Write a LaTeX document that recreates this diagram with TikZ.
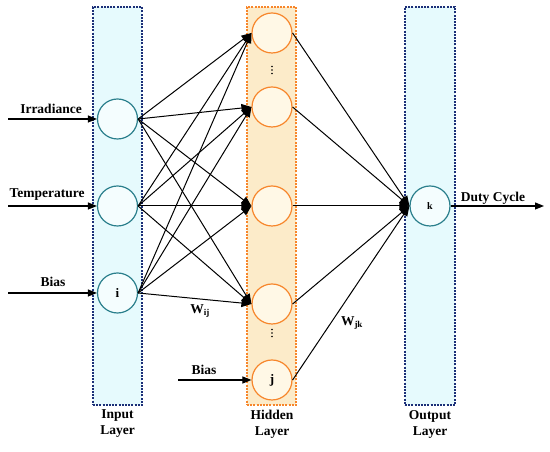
\documentclass[tikz,border=0pt]{standalone}
\usepackage{fontspec}
\setmainfont{Liberation Serif}
\usetikzlibrary{arrows.meta}
\definecolor{navy}{HTML}{1B2F78}
\definecolor{cyanfill}{HTML}{E6FAFD}
\definecolor{teal}{HTML}{2A7F8C}
\definecolor{tealfill}{HTML}{F4FDFE}
\definecolor{orng}{HTML}{F7862B}
\definecolor{orfill}{HTML}{FCEBC9}
\definecolor{ocfill}{HTML}{FFF8E6}
\tikzset{
  lbl/.style={font=\bfseries\fontsize{13.5}{17}\selectfont, inner sep=0pt},
  inbox/.style={draw=navy, fill=cyanfill, line width=1.4pt, dash pattern=on 2pt off 1.2pt},
  hidbox/.style={draw=orng, fill=orfill, line width=1.4pt, dash pattern=on 2pt off 1.2pt},
  incirc/.style={circle, draw=teal, fill=tealfill, line width=1.2pt, minimum size=40pt, inner sep=0pt, font=\bfseries\fontsize{13}{15}\selectfont},
  hidcirc/.style={circle, draw=orng, fill=ocfill, line width=1.2pt, minimum size=40pt, inner sep=0pt, font=\bfseries\fontsize{13}{15}\selectfont},
  conn/.style={line width=1pt, -{Triangle[length=10pt,width=8pt]}},
  inarr/.style={line width=1.1pt, -{Triangle[length=9pt,width=7pt]}},
  dot/.style={fill=black}
}
\begin{document}
\begin{tikzpicture}[x=1pt,y=1pt]
\useasboundingbox (0,0) rectangle (550,452);
% layer boxes
\node[inbox, minimum width=49pt, minimum height=398pt, inner sep=0pt] (inbox) at (117.5,246) {};
\node[hidbox, minimum width=49pt, minimum height=398pt, inner sep=0pt] (hidbox) at (271.5,246) {};
\node[inbox, minimum width=50pt, minimum height=398pt, inner sep=0pt] (outbox) at (430,246) {};
% input nodes
\node[incirc] (in1) at (117.5,333) {};
\node[incirc] (in2) at (117.5,246) {};
\node[incirc] (in3) at (117.5,159) {i};
% hidden nodes
\node[hidcirc] (h1) at (272,419) {};
\node[hidcirc] (h2) at (272,345) {};
\node[hidcirc] (h3) at (272,246) {};
\node[hidcirc] (h4) at (272,148) {};
\node[hidcirc] (h5) at (272,72) {j};
% vertical dots
\coordinate (d1) at (272,382);
\coordinate (d2) at (272,119);
\foreach \d in {d1,d2}{
  \foreach \o in {-3.5,0,3.5}{
    \fill[dot] ([yshift=\o pt]\d) circle (0.9pt);
  }
}
% output node
\node[incirc, font=\bfseries\fontsize{10}{12}\selectfont] (k) at (430,246) {k};
% input arrows
\coordinate (s1) at (8,333);
\coordinate (s2) at (8,246);
\coordinate (s3) at (8,159);
\coordinate (sb) at (178,72);
\coordinate (out) at (544,246);
\draw[inarr] (s1) -- (in1.west);
\draw[inarr] (s2) -- (in2.west);
\draw[inarr] (s3) -- (in3.west);
\draw[inarr] (sb) -- (h5.west);
\draw[inarr] (k.east) -- (out);
\node[lbl] (t1) at (51,343) {Irradiance};
\node[lbl] (t2) at (47,257) {Temperature};
\node[lbl] (t3) at (53,170) {Bias};
\node[lbl] (t4) at (204,82) {Bias};
\node[lbl] (t5) at (493,254) {Duty Cycle};
% input to hidden
\foreach \i in {in1,in2,in3}{
  \foreach \j in {h1,h2,h3,h4}{
    \draw[conn] (\i.east) -- (\j.west);
  }
}
% hidden to output
\foreach \j in {h1,h2,h3,h4,h5}{
  \draw[conn] (\j.east) -- (k.west);
}
% weights
\node[lbl] (wij) at (200,141) {W\textsubscript{\fontsize{9}{10}\selectfont ij}};
\node[lbl] (wjk) at (352,129) {W\textsubscript{\fontsize{9}{10}\selectfont jk}};
% layer labels
\node[lbl, align=center] (l1) at (117.5,28) {Input\\[-1pt]Layer};
\node[lbl, align=center] (l2) at (272,28) {Hidden\\[-1pt]Layer};
\node[lbl, align=center] (l3) at (430,28) {Output\\[-1pt]Layer};
\end{tikzpicture}
\end{document}
